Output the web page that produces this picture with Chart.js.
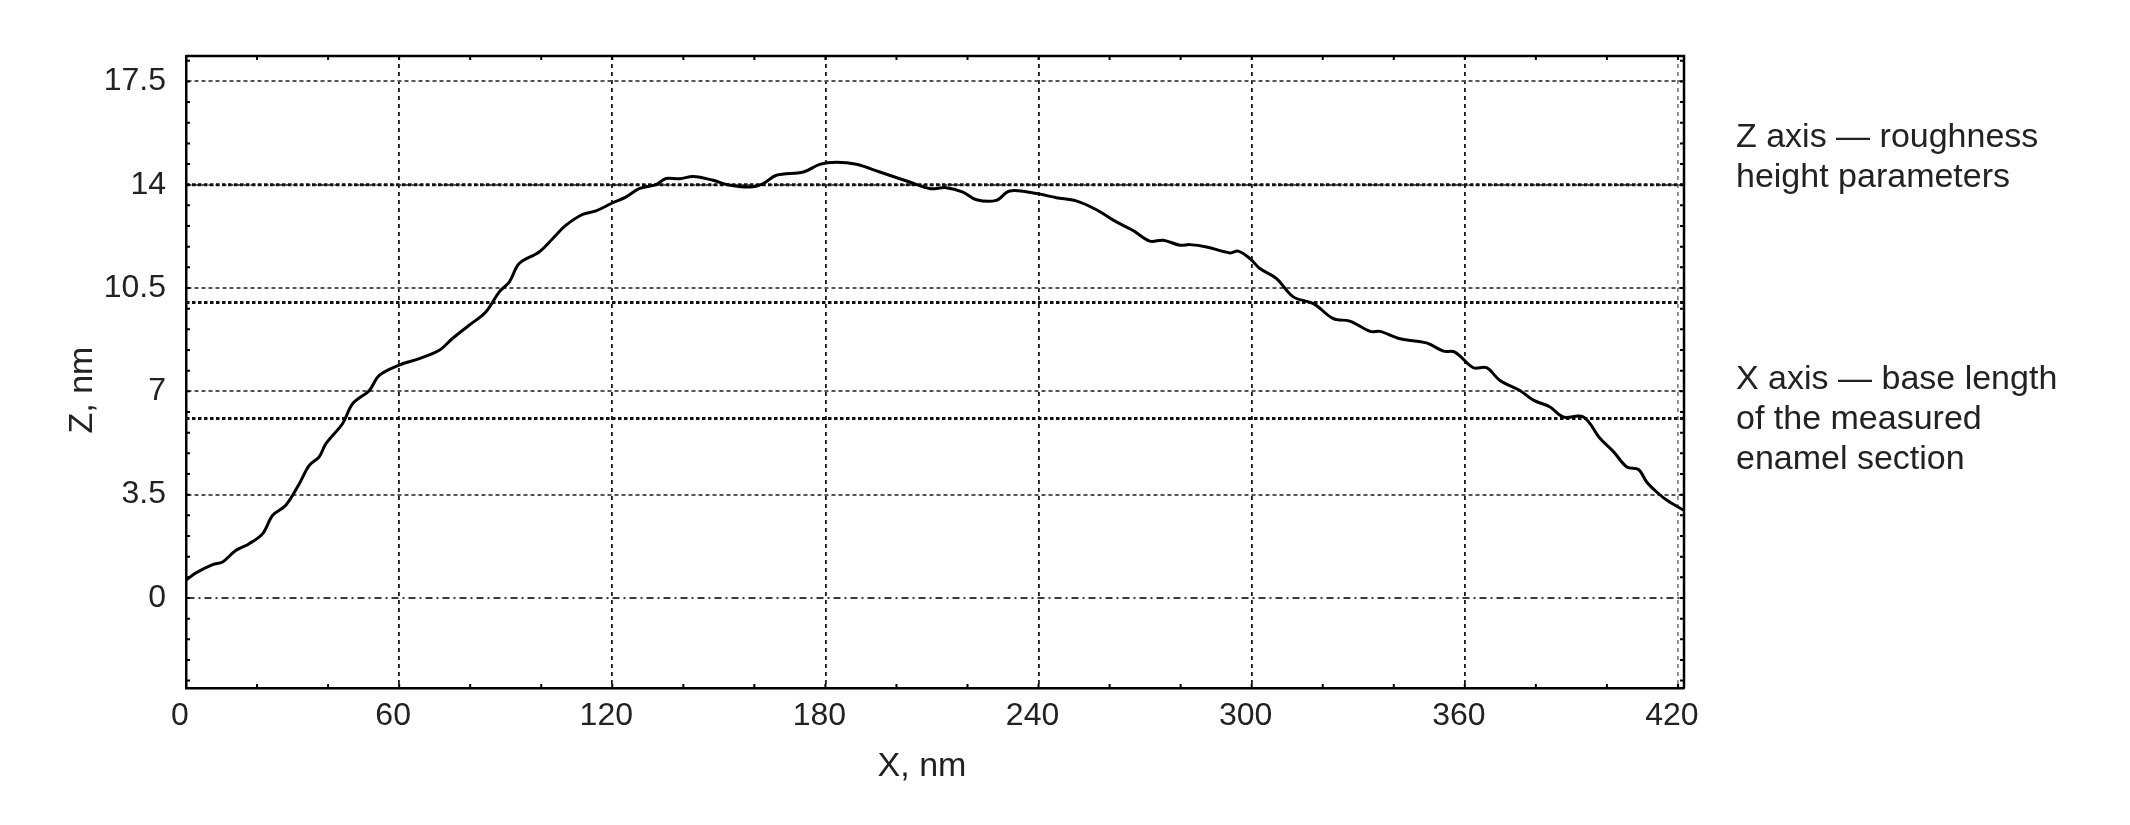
<!DOCTYPE html>
<html>
<head>
<meta charset="utf-8">
<title>Enamel roughness profile</title>
<script src="https://cdn.jsdelivr.net/npm/chart.js@4.4.1/dist/chart.umd.min.js"></script>
<style>
  html, body { margin: 0; padding: 0; background: #fff; }
  #wrap { position: relative; width: 2130px; height: 825px; }
  #chart-box { position: absolute; left: 0; top: 0; width: 2130px; height: 825px; }
  .note {
    position: absolute; left: 1736px;
    font-family: "Liberation Sans", Arial, sans-serif;
    font-size: 34px; line-height: 40px; color: #222; white-space: nowrap;
  }
</style>
</head>
<body>
<div id="wrap">
  <div id="chart-box"><canvas id="profile"></canvas></div>
  <div class="note" style="top:115px;">Z axis — roughness<br>height parameters</div>
  <div class="note" style="top:357px;">X axis — base length<br>of the measured<br>enamel section</div>
</div>
<script>
// profile, x and z in nm
const X_NM = [
  0, 2.8, 7.5, 10.3, 14, 17.8, 21.6, 24.4, 28.1, 31.9, 34.7, 37.5, 39.4, 44.1, 46.9,
  51.6, 54.4, 59.8, 65.7, 71.3, 75, 79.7, 84.4, 88.2, 91, 93.8, 99.4, 103.2, 106.9,
  111.6, 115.4, 120, 123.8, 127.6, 132.3, 135.1, 139, 142.8, 148.4, 152.4, 158.7,
  162.5, 166.2, 173.8, 178.4, 183.1, 188.7, 195.3, 203.7, 209.3, 214, 218.7, 222.5,
  228.1, 231.9, 239.4, 245, 250.6, 256.3, 261.9, 266.6, 271.3, 275.1, 279.8, 282.6,
  287.3, 293.9, 296.2, 299.5, 302.3, 307, 311.7, 317.4, 323, 327.6, 333.4, 336.1,
  341.8, 349.2, 354, 357.2, 362.4, 366.1, 369.9, 375.5, 379.3, 384, 387.7, 393.4,
  398.1, 401.9, 405.6, 408.9, 411.2, 414, 416.9, 421.7
];
const Z_NM = [
  0.6, 0.85, 1.13, 1.22, 1.61, 1.84, 2.18, 2.8, 3.14, 3.87, 4.49, 4.78, 5.23, 5.91, 6.58,
  7.03, 7.54, 7.88, 8.11, 8.39, 8.79, 9.24, 9.69, 10.37, 10.7, 11.33, 11.72, 12.17, 12.62,
  12.99, 13.11, 13.38, 13.58, 13.87, 14.0, 14.21, 14.2, 14.28, 14.15, 14.0, 13.92,
  14.04, 14.32, 14.43, 14.69, 14.76, 14.69, 14.43, 14.09, 13.87, 13.9, 13.75, 13.49,
  13.47, 13.79, 13.7, 13.56, 13.45, 13.15, 12.74, 12.45, 12.09, 12.12, 11.95, 11.97,
  11.89, 11.69, 11.75, 11.5, 11.16, 10.82, 10.2, 9.97, 9.46, 9.38, 9.03, 9.03,
  8.78, 8.64, 8.36, 8.33, 7.8, 7.8, 7.37, 7.03, 6.7, 6.47, 6.13, 6.13,
  5.4, 4.95, 4.44, 4.35, 3.93, 3.59, 3.31, 2.97
];

const X_TICKS = [0, 60, 120, 180, 240, 300, 360, 420];
const Z_TICKS = [0, 3.5, 7, 10.5, 14, 17.5];
const REF_LEVELS = [14, 10.01, 6.08];   // heavy dotted levels

const X_RANGE = [0, 421.7];
const Z_RANGE = [-3.05, 18.36];
const X_MINOR = 20;
const Z_MINOR = 0.7;

const FONT = '"Liberation Sans", Arial, sans-serif';
const INK = '#222';

// inner frame: top/right border, inward minor ticks, axis titles
const framePlugin = {
  id: 'frame',
  afterDatasetsDraw(chart) {
    const { ctx, chartArea: a, scales: { x, y } } = chart;
    ctx.save();
    ctx.strokeStyle = '#000';
    ctx.lineWidth = 2.5;
    ctx.beginPath();
    ctx.moveTo(a.left, a.top);
    ctx.lineTo(a.right, a.top);
    ctx.lineTo(a.right, a.bottom);
    ctx.stroke();

    ctx.lineWidth = 2;
    ctx.beginPath();
    for (let v = X_MINOR; v < x.max; v += X_MINOR) {
      const px = x.getPixelForValue(v);
      ctx.moveTo(px, a.bottom); ctx.lineTo(px, a.bottom - 4);
      ctx.moveTo(px, a.top);    ctx.lineTo(px, a.top + 4);
    }
    for (let k = Math.ceil(y.min / Z_MINOR); k * Z_MINOR < y.max; k++) {
      const py = y.getPixelForValue(k * Z_MINOR);
      ctx.moveTo(a.left, py);  ctx.lineTo(a.left + 4, py);
      ctx.moveTo(a.right, py); ctx.lineTo(a.right - 4, py);
    }
    ctx.stroke();
    ctx.restore();
  },
  afterDraw(chart) {
    const { ctx, chartArea: a } = chart;
    ctx.save();
    ctx.fillStyle = INK;
    ctx.font = '34px ' + FONT;
    ctx.textAlign = 'center';
    ctx.textBaseline = 'middle';
    ctx.fillText('X, nm', (a.left + a.right) / 2 - 13, 767);
    ctx.translate(83, (a.top + a.bottom) / 2 + 18);
    ctx.rotate(-Math.PI / 2);
    ctx.fillText('Z, nm', 0, 0);
    ctx.restore();
  }
};

function refLine(level) {
  return {
    data: [{ x: X_RANGE[0], y: level }, { x: X_RANGE[1], y: level }],
    borderColor: '#111',
    borderWidth: 3,
    borderDash: [3.5, 2.5],
    pointRadius: 0
  };
}

const profile = {
  data: X_NM.map((v, i) => ({ x: v, y: Z_NM[i] })),
  borderColor: '#000',
  borderWidth: 3,
  pointRadius: 0,
  tension: 0.35
};

new Chart(document.getElementById('profile'), {
  type: 'line',
  data: { datasets: [profile, ...REF_LEVELS.map(refLine)] },
  options: {
    responsive: true,
    maintainAspectRatio: false,
    animation: false,
    layout: { padding: { top: 56, right: 446, left: 0, bottom: 0 } },
    plugins: { legend: { display: false }, tooltip: { enabled: false } },
    scales: {
      x: {
        type: 'linear',
        min: X_RANGE[0], max: X_RANGE[1],
        afterBuildTicks: s => { s.ticks = X_TICKS.map(v => ({ value: v })); },
        afterFit: s => { s.height = 137; },
        ticks: {
          color: INK, font: { family: FONT, size: 32 },
          padding: 9, labelOffset: -6, maxRotation: 0, autoSkip: false,
          callback: v => String(v)
        },
        grid: {
          drawTicks: false,
          lineWidth: 1.8,
          color: c => c.tick.value === 0 ? 'rgba(0,0,0,0)' : (c.tick.value === 420 ? '#8a8a8a' : '#1a1a1a')
        },
        border: { color: '#000', width: 2.5, dash: c => c.tick ? [4, 4] : [] }
      },
      y: {
        type: 'linear',
        min: Z_RANGE[0], max: Z_RANGE[1],
        afterBuildTicks: s => { s.ticks = Z_TICKS.map(v => ({ value: v })); },
        afterFit: s => { s.width = 186; },
        ticks: {
          color: INK, font: { family: FONT, size: 32 },
          padding: 20, autoSkip: false,
          callback: v => String(v)
        },
        grid: {
          drawTicks: false,
          lineWidth: 2,
          color: c => c.tick.value === 0 ? '#3a3a3a' : '#555'
        },
        border: {
          color: '#000', width: 2.5,
          dash: c => !c.tick ? [] : (c.tick.value === 0 ? [7, 4, 2, 4] : [4, 3])
        }
      }
    }
  },
  plugins: [framePlugin]
});
</script>
</body>
</html>
